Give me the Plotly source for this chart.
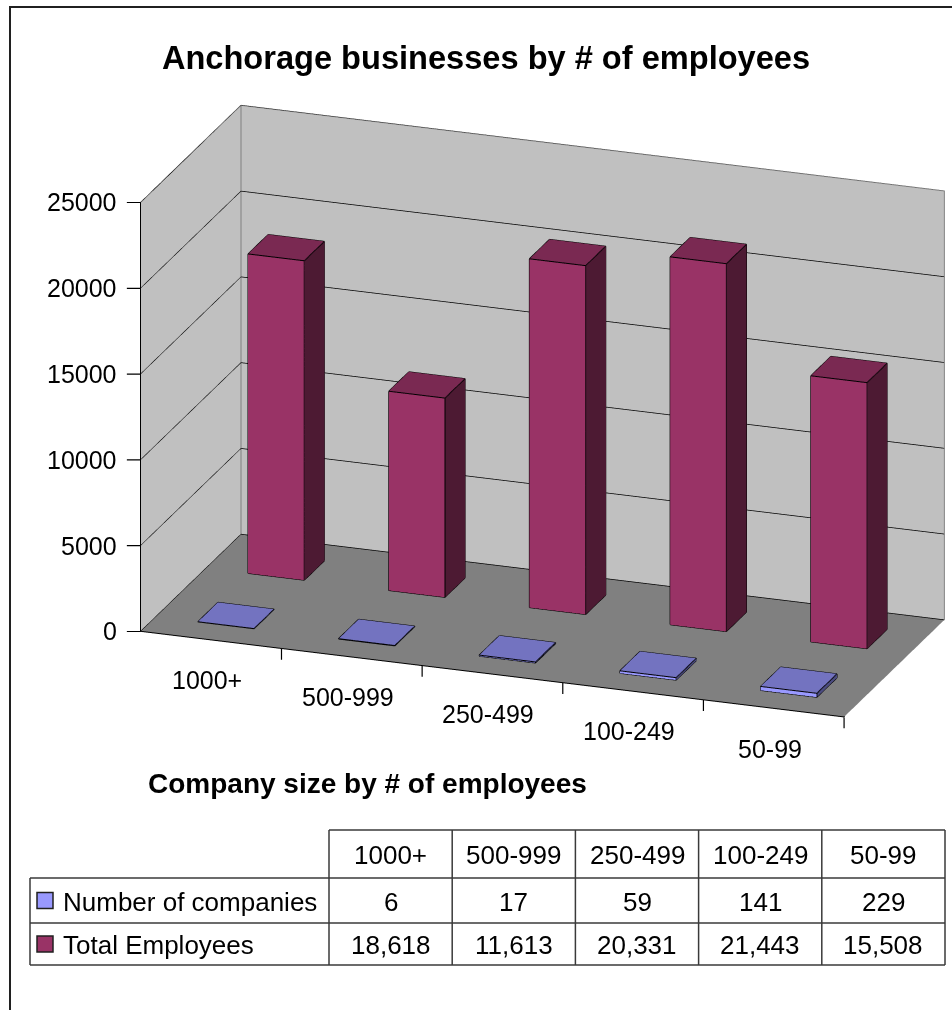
import plotly.graph_objects as go

# ---------------- data ----------------
categories = ["1000+", "500-999", "250-499", "100-249", "50-99"]
series_names = ["Number of companies", "Total Employees"]
companies = [6, 17, 59, 141, 229]
employees = [18618, 11613, 20331, 21443, 15508]
z_ticks = [0, 5000, 10000, 15000, 20000, 25000]

# ---------------- style ----------------
FONT = "Liberation Sans, Arial, sans-serif"
BAR_W = 0.4   # fraction of a category
BAR_D = 0.4   # fraction of a series row
X_RANGE = [-0.5, len(categories) - 0.5]
Y_RANGE = [0, len(series_names)]
Z_RANGE = [0, 25001]
styles = {
    "Number of companies": dict(front="#9999FF", top="#7373C0", side="#4C4C80", key="#9999FF"),
    "Total Employees": dict(front="#993366", top="#7A2952", side="#4D1A33", key="#993366"),
}


def bars_mesh(values, row, st, name):
    xs, ys, zs, I, J, K, fc = [], [], [], [], [], [], []
    ex, ey, ez = [], [], []
    for i, v in enumerate(values):
        x0, x1 = i - BAR_W / 2, i + BAR_W / 2
        y0, y1 = row + 0.5 - BAR_D / 2, row + 0.5 + BAR_D / 2
        b = len(xs)
        pts = [(x0, y0, 0), (x1, y0, 0), (x1, y1, 0), (x0, y1, 0),
               (x0, y0, v), (x1, y0, v), (x1, y1, v), (x0, y1, v)]
        for p in pts:
            xs.append(p[0]); ys.append(p[1]); zs.append(p[2])
        faces = [
            ((0, 1, 5), st["front"]), ((0, 5, 4), st["front"]),
            ((3, 2, 6), st["front"]), ((3, 6, 7), st["front"]),
            ((0, 3, 7), st["side"]), ((0, 7, 4), st["side"]),
            ((1, 2, 6), st["side"]), ((1, 6, 5), st["side"]),
            ((4, 5, 6), st["top"]), ((4, 6, 7), st["top"]),
            ((0, 1, 2), st["top"]), ((0, 2, 3), st["top"]),
        ]
        for (a, c, d), col in faces:
            I.append(b + a); J.append(b + c); K.append(b + d); fc.append(col)
        edges = [(0, 1), (1, 2), (2, 3), (3, 0), (4, 5), (5, 6), (6, 7), (7, 4),
                 (0, 4), (1, 5), (2, 6), (3, 7)]
        for a, c in edges:
            for p in (pts[a], pts[c]):
                ex.append(p[0]); ey.append(p[1]); ez.append(p[2])
            ex.append(None); ey.append(None); ez.append(None)
    mesh = go.Mesh3d(x=xs, y=ys, z=zs, i=I, j=J, k=K, facecolor=fc, flatshading=True,
                     lighting=dict(ambient=1, diffuse=0, specular=0, roughness=1, fresnel=0),
                     name=name, showlegend=False, hoverinfo="skip")
    lines = go.Scatter3d(x=ex, y=ey, z=ez, mode="lines", line=dict(color="black", width=2),
                         showlegend=False, hoverinfo="skip", connectgaps=False)
    return [mesh, lines]


fig = go.Figure()

# wall outlines (from the axis ranges)
x0r, x1r = X_RANGE
y0r, y1r = Y_RANGE
z0r, z1r = Z_RANGE
wx = [x0r, x0r, None, x0r, x0r, x1r, x1r, None, x0r, x0r]
wy = [y0r, y1r, None, y1r, y1r, y1r, y1r, None, y1r, y1r]
wz = [z1r, z1r, None, z0r, z1r, z1r, z0r, None, z0r, z0r]
fig.add_trace(go.Scatter3d(x=wx, y=wy, z=wz, mode="lines", line=dict(color="#808080", width=2),
                           showlegend=False, hoverinfo="skip"))
fig.add_trace(go.Scatter3d(x=[x1r, x1r], y=[y0r, y1r], z=[z0r, z0r], mode="lines",
                           line=dict(color="#202020", width=1.5), showlegend=False, hoverinfo="skip"))

for row, (name, vals) in enumerate(zip(series_names, [companies, employees])):
    for tr in bars_mesh(vals, row, styles[name], name):
        fig.add_trace(tr)

# ---------------- 3D axis labels (scene annotations) ----------------
axis_font = dict(family=FONT, size=25, color="black")
scene_ann = []
for v in z_ticks:
    scene_ann.append(dict(x=x0r, y=y0r, z=v, text=str(v), showarrow=True, arrowhead=0,
                          arrowwidth=1.2, arrowcolor="black", ax=-22, ay=0, xanchor="right",
                          yanchor="middle", startstandoff=8, standoff=0, font=axis_font))
for i, c in enumerate(categories):
    scene_ann.append(dict(x=i, y=y0r, z=0, text=c, showarrow=False, yshift=-40, xshift=-4,
                          xanchor="center", yanchor="middle", font=axis_font))
    scene_ann.append(dict(x=i + 0.5, y=y0r, z=0, text=" ", showarrow=True, arrowhead=0,
                          arrowwidth=1.2, arrowcolor="black", ax=0, ay=13, standoff=0,
                          startstandoff=0, font=dict(size=1)))

# ---------------- data table (paper coordinates) ----------------
W, H = 952, 1010
px = lambda x: x / W
py = lambda y: 1 - y / H
tbl_left, lbl_right, tbl_right = 30, 329, 945
col_w = (tbl_right - lbl_right) / len(categories)
row_y = [830, 878, 923, 965]
line_col = "#3A3A3A"
shapes = [
    dict(type="rect", xref="paper", yref="paper", x0=px(10), x1=1.05, y0=-0.05, y1=py(7),
         line=dict(color="#202020", width=2), fillcolor="rgba(0,0,0,0)"),
]
shapes.append(dict(type="line", xref="paper", yref="paper", x0=px(lbl_right), x1=px(tbl_right),
                   y0=py(row_y[0]), y1=py(row_y[0]), line=dict(color=line_col, width=1.5)))
for yv in row_y[1:]:
    shapes.append(dict(type="line", xref="paper", yref="paper", x0=px(tbl_left), x1=px(tbl_right),
                       y0=py(yv), y1=py(yv), line=dict(color=line_col, width=1.5)))
shapes.append(dict(type="line", xref="paper", yref="paper", x0=px(tbl_left), x1=px(tbl_left),
                   y0=py(row_y[1]), y1=py(row_y[3]), line=dict(color=line_col, width=1.5)))
for k in range(len(categories) + 1):
    xv = lbl_right + k * col_w
    shapes.append(dict(type="line", xref="paper", yref="paper", x0=px(xv), x1=px(xv),
                       y0=py(row_y[0]), y1=py(row_y[3]), line=dict(color=line_col, width=1.5)))

table_font = dict(family=FONT, size=26, color="black")
annotations = [dict(text="Company size by # of employees", x=px(367), y=py(783),
                    xref="paper", yref="paper", showarrow=False, xanchor="center", yanchor="middle",
                    font=dict(family=FONT, size=28, color="black", weight="bold"))]
for k, c in enumerate(categories):
    cx = lbl_right + (k + 0.5) * col_w
    annotations.append(dict(text=c, x=px(cx), y=py((row_y[0] + row_y[1]) / 2 + 1), xref="paper",
                            yref="paper", showarrow=False, xanchor="center", yanchor="middle",
                            font=table_font))
    for r, vals in enumerate([companies, employees]):
        annotations.append(dict(text=f"{vals[k]:,}", x=px(cx),
                                y=py((row_y[r + 1] + row_y[r + 2]) / 2 + 1), xref="paper",
                                yref="paper", showarrow=False, xanchor="center", yanchor="middle",
                                font=table_font))
for r, name in enumerate(series_names):
    yc = (row_y[r + 1] + row_y[r + 2]) / 2
    annotations.append(dict(text=name, x=px(61), y=py(yc + 1), xref="paper", yref="paper",
                            showarrow=False, xanchor="left", yanchor="middle", font=table_font))
    shapes.append(dict(type="rect", xref="paper", yref="paper", x0=px(37), x1=px(53),
                       y0=py(yc + 8), y1=py(yc - 8), line=dict(color="#202020", width=1.5),
                       fillcolor=styles[name]["key"]))

eye_dir = (0.314, -0.885, 0.343)
dist = 2.0
fig.update_layout(
    width=W, height=H,
    margin=dict(l=0, r=0, t=0, b=0),
    paper_bgcolor="white",
    title=dict(text="Anchorage businesses by # of employees", x=px(486), xanchor="center",
               y=py(58), yanchor="middle",
               font=dict(family=FONT, size=32.6, color="black", weight="bold")),
    scene=dict(
        domain=dict(x=[0.14, 1.0], y=[0.174, 1.0]),
        xaxis=dict(range=X_RANGE, showticklabels=False,
                   showgrid=False, zeroline=False, showbackground=True, backgroundcolor="#C0C0C0",
                   showline=True, linecolor="black", linewidth=2, ticks="",
                   title=dict(text=""), showspikes=False),
        yaxis=dict(range=Y_RANGE, showticklabels=False, showgrid=False, zeroline=False,
                   showbackground=True, backgroundcolor="#C0C0C0", ticks="", title=dict(text=""),
                   showspikes=False, showline=False),
        zaxis=dict(range=Z_RANGE, tickvals=z_ticks, showticklabels=False, showgrid=True,
                   gridcolor="black", gridwidth=1.5,
                   zeroline=False, showbackground=True, backgroundcolor="#808080",
                   ticks="", showline=True, linecolor="black", linewidth=2,
                   title=dict(text=""), showspikes=False),
        aspectmode="manual", aspectratio=dict(x=1.79, y=0.72, z=1.095),
        camera=dict(projection=dict(type="orthographic"),
                    eye=dict(x=eye_dir[0] * dist, y=eye_dir[1] * dist, z=eye_dir[2] * dist - 0.015),
                    up=dict(x=0, y=0, z=1), center=dict(x=0, y=0, z=-0.015)),
        bgcolor="rgba(0,0,0,0)",
        annotations=scene_ann,
    ),
    annotations=annotations,
    shapes=shapes,
)

fig.write_html("out.html", config={"displayModeBar": False},
               post_script="document.body.style.margin='0px';")
